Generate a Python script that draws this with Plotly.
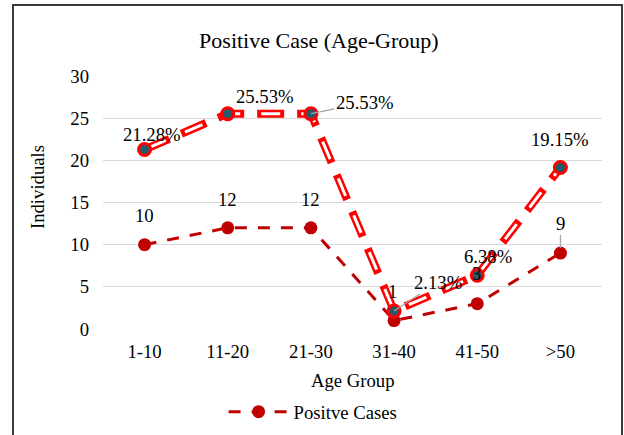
import plotly.graph_objects as go

categories = ["1-10", "11-20", "21-30", "31-40", "41-50", ">50"]
positive_cases = [10, 12, 12, 1, 3, 9]
percent_values = [21.28, 25.53, 25.53, 2.13, 6.38, 19.15]
percent_labels = ["21.28%", "25.53%", "25.53%", "2.13%", "6.38%", "19.15%"]
count_labels = ["10", "12", "12", "1", "3", "9"]
y_ticks = [0, 5, 10, 15, 20, 25, 30]

FONT = "Liberation Serif, Tinos, DejaVu Serif, serif"
DARK_RED = "#C00000"
RED = "#FF0000"
TEAL = "#27596A"

fig = go.Figure()

# count series
fig.add_trace(go.Scatter(
    x=categories, y=positive_cases, mode="lines+markers", name="Positve Cases",
    line=dict(color=DARK_RED, width=3, dash="12px,11px"),
    marker=dict(color=DARK_RED, size=13, line=dict(width=0)),
    showlegend=True,
))

# percent series: outlined dashed line
fig.add_trace(go.Scatter(
    x=categories, y=percent_values, mode="lines",
    line=dict(color=RED, width=8, dash="27px,13px"),
    showlegend=False, hoverinfo="skip",
))
fig.add_trace(go.Scatter(
    x=categories, y=percent_values, mode="lines",
    line=dict(color="white", width=3, dash="0px,4px,19px,17px"),
    showlegend=False, hoverinfo="skip",
))
fig.add_trace(go.Scatter(
    x=categories, y=percent_values, mode="markers",
    marker=dict(color=TEAL, size=12, line=dict(color=RED, width=3)),
    showlegend=False,
))

annotations = []
# percent labels (xshift, yshift, arrow)
pct_pos = [(7, 15, None), (37, 17, None), (None, None, (54, -11)),
           (None, None, (44, -29)), (11, 19, None), (0, 28, None)]
for i, (c, v, t) in enumerate(zip(categories, percent_values, percent_labels)):
    xs, ys, arr = pct_pos[i]
    if arr is None:
        annotations.append(dict(x=c, y=v, xref="x", yref="y", text=t, showarrow=False,
                                xshift=xs, yshift=ys, font=dict(family=FONT, size=18.7, color="black")))
    else:
        annotations.append(dict(x=c, y=v, xref="x", yref="y", text=t, showarrow=True,
                                ax=arr[0], ay=arr[1], arrowhead=0, arrowwidth=1.2,
                                arrowcolor="#A6A6A6", standoff=0,
                                font=dict(family=FONT, size=18.7, color="black")))
cnt_pos = [(0, 29, None), (0, 28, None), (0, 28, None), (-2, 29, None), (-1, 30, None), (None, None, (0, -30))]
for i, (c, v, t) in enumerate(zip(categories, positive_cases, count_labels)):
    xs, ys, arr = cnt_pos[i]
    if arr is None:
        annotations.append(dict(x=c, y=v, xref="x", yref="y", text=t, showarrow=False,
                                xshift=xs, yshift=ys, font=dict(family=FONT, size=18.7, color="black")))
    else:
        annotations.append(dict(x=c, y=v, xref="x", yref="y", text=t, showarrow=True,
                                ax=arr[0], ay=arr[1], arrowhead=0, arrowwidth=1.2,
                                arrowcolor="#A6A6A6", standoff=5,
                                font=dict(family=FONT, size=18.7, color="black")))

# axis titles
annotations.append(dict(x=0.5, y=-0.2055, xref="paper", yref="paper", text="Age Group",
                        showarrow=False, xanchor="center", yanchor="middle",
                        font=dict(family=FONT, size=18.7, color="black")))
annotations.append(dict(x=-0.1323, y=0.561, xref="paper", yref="paper", text="Individuals",
                        showarrow=False, xanchor="center", yanchor="middle", textangle=-90,
                        font=dict(family=FONT, size=18.7, color="black")))

fig.update_layout(
    width=624, height=435,
    margin=dict(l=103, r=22, t=76, b=106, autoexpand=False),
    paper_bgcolor="white", plot_bgcolor="white",
    font=dict(family=FONT, size=18.7, color="black"),
    title=dict(text="Positive Case (Age-Group)", x=0.511, xanchor="center",
               y=1 - 40 / 435, yanchor="middle", yref="container",
               font=dict(family=FONT, size=22, color="black")),
    xaxis=dict(type="category", range=[-0.5, 5.5], showgrid=False, showline=False,
               zeroline=False, ticks="", ticklabelstandoff=9,
               tickfont=dict(family=FONT, size=18.7, color="black")),
    yaxis=dict(range=[0, 30], tickvals=y_ticks, showgrid=True, gridcolor="#D9D9D9",
               gridwidth=1.3, zeroline=False, showline=False, ticks="",
               ticklabelstandoff=13,
               tickfont=dict(family=FONT, size=18.7, color="black")),
    legend=dict(orientation="h", x=0.421, xanchor="center", y=-0.328, yanchor="middle",
                font=dict(family=FONT, size=18.7, color="black"), itemwidth=60,
                bgcolor="rgba(0,0,0,0)"),
    annotations=annotations,
    shapes=[dict(type="rect", xref="paper", yref="paper",
                 x0=(13 - 103) / 499, x1=(622 - 103) / 499,
                 y0=(329 - 440) / 253, y1=(329 - 5) / 253,
                 line=dict(color="#3A3A3A", width=2), fillcolor="rgba(0,0,0,0)",
                 layer="above")],
)

fig.write_html("out.html", config={"displayModeBar": False},
               post_script="document.body.style.margin='0';")
